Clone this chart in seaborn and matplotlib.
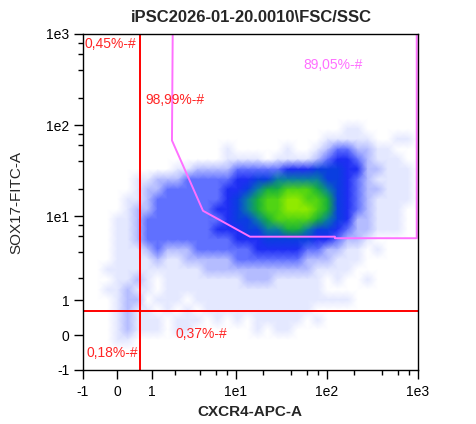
import numpy as np
import matplotlib
matplotlib.use("Agg")
import matplotlib.pyplot as plt
from matplotlib.colors import ListedColormap, BoundaryNorm
import seaborn as sns

# Event density: one string per 10 px band (top -> bottom),
# one digit per 10 px column (left -> right). 0 = no events, 9 = densest.
density_rows = [
    "0",
    "0",
    "0",
    "0",
    "0",
    "0",
    "0",
    "0",
    "0",
    "0000000000000000000000000011",
    "000000000000000000000000111110011",
    "0000000000000010000010012332211",
    "00000000000000111101111234432111",
    "000000000112222333334445554422111",
    "000001122233333445566666554321111",
    "000001223333334456778887654322111",
    "000011233333334567889988754321111",
    "00001223333334456788999875432111",
    "00011233333333455678888765422111",
    "00011233333334445566776554322111",
    "00011233333333344455555443221",
    "000111232223333334444433221101",
    "0001111211222223333333222111",
    "001111111111222222222221111",
    "00011210111111112221111101001",
    "00112110" + "1111111111111111",
    "00012201110" + "1111111111111111",
    "000121101010" + "11111111111",
    "000121110111010101111101",
    "000121110110000001011",
    "00011",
    "0",
    "0",
    "0",
]

# axis ticks (arcsinh display, like the cytometer software)
major_ticks = [-1, 0, 1, 10, 100, 1000]
major_labels = ["-1", "0", "1", "1e1", "1e2", "1e3"]
minor_ticks = [2, 4, 6, 8, 20, 40, 60, 80, 200, 400, 600, 800]

# quadrant gate
quad_x = 0.60
quad_y = 0.65

# polygon gate (open side runs along the top of the plot)
gate_x = [1.90, 1.86, 4.30, 14.3, 123.0, 123.0, 976.0, 976.0]
gate_y = [1000.0, 68.0, 11.5, 5.95, 5.95, 5.72, 5.72, 1000.0]

level_colors = ["#ffffff", "#e4e8ff", "#b4bcff", "#6070ff", "#1e2ef4",
                "#0a3ee0", "#0a7fa0", "#18b03c", "#50d414", "#90ea00"]

sns.set_theme(style="ticks")
plt.rcParams["font.family"] = ["Liberation Sans", "DejaVu Sans"]
plt.rcParams["axes.unicode_minus"] = False

fig = plt.figure(figsize=(4.76, 4.24), dpi=100)
ax = fig.add_axes([0.1737, 0.1274, 0.7038, 0.7925])
ax.set_xscale("function", functions=(np.arcsinh, np.sinh))
ax.set_yscale("function", functions=(np.arcsinh, np.sinh))
ax.set_xlim(-1, 1000)
ax.set_ylim(-1, 1000)

# density cells, shaded between cell centres
grid = np.array([[int(ch) for ch in row.ljust(34, "0")] for row in density_rows])
n_rows, n_cols = grid.shape
cell = 10 / 39.5  # one cell is 10 px in arcsinh units
x_mid = np.sinh(np.arcsinh(-1) + cell * (np.arange(n_cols) + 0.5))
y_mid = np.sinh(np.arcsinh(1000) - cell * (np.arange(n_rows) + 0.5))
cmap = ListedColormap(level_colors)
norm = BoundaryNorm(np.arange(-0.5, 10.5, 1), cmap.N)
ax.pcolormesh(x_mid, y_mid, grid, cmap=cmap, norm=norm,
              shading="gouraud", zorder=1)

# gates
ax.axvline(quad_x, color="#ff0000", lw=1.4, zorder=3)
ax.axhline(quad_y, color="#ff0000", lw=1.4, zorder=3)
ax.plot(gate_x, gate_y, color="#ff70ff", lw=1.4, zorder=3)

red = "#ff2525"
ax.text(0.006, 0.991, "0,45%-#", color=red, fontsize=10, va="top", ha="left",
        transform=ax.transAxes)
ax.text(0.186, 0.804, "98,99%-#", color=red, fontsize=10, va="center", ha="left",
        transform=ax.transAxes)
ax.text(0.658, 0.909, "89,05%-#", color="#ff70ff", fontsize=10, va="center",
        ha="left", transform=ax.transAxes)
ax.text(0.2785, 0.107, "0,37%-#", color=red, fontsize=10, va="center", ha="left",
        transform=ax.transAxes)
ax.text(0.010, 0.052, "0,18%-#", color=red, fontsize=10, va="center", ha="left",
        transform=ax.transAxes)

# ticks and frame
for axis in (ax.xaxis, ax.yaxis):
    axis.set_ticks(major_ticks)
    axis.set_ticklabels(major_labels)
    axis.set_ticks(minor_ticks, minor=True)
ax.tick_params(which="major", length=6.5, width=1, color="black",
               labelcolor="black", labelsize=10, pad=3)
ax.tick_params(which="minor", length=3.8, width=1, color="black")
ax.tick_params(axis="x", which="major", pad=4.5)
for spine in ax.spines.values():
    spine.set_color("black")
    spine.set_linewidth(1)
    spine.set_zorder(4)
ax.set_facecolor("white")
ax.grid(False)

fig.text(251 / 476, 1 - 18 / 424, "iPSC2026-01-20.0010\\FSC/SSC", fontsize=12,
         fontweight="bold", ha="center", va="center")
fig.text(250 / 476, 1 - 412 / 424, "CXCR4-APC-A", fontsize=11,
         fontweight="bold", ha="center", va="center")
fig.text(16 / 476, 1 - 203 / 424, "SOX17-FITC-A", fontsize=11, rotation=90,
         ha="center", va="center")

fig.savefig("out.png", dpi=100, facecolor="white")
